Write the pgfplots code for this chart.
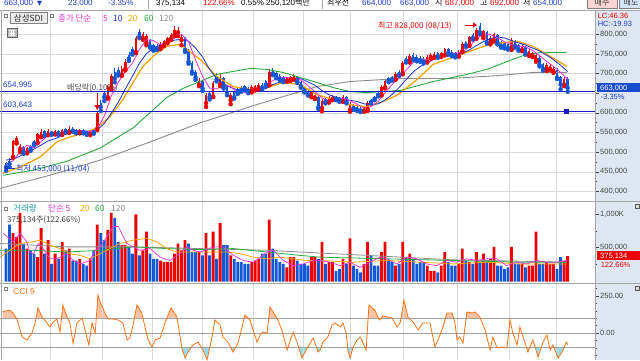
\documentclass[border=0pt]{standalone}
\usepackage{pgfplots}
\pgfplotsset{compat=1.18}
\usepackage{pgfplotstable}
\usetikzlibrary{arrows.meta}
\usepackage{fontspec}
\setmainfont{Liberation Sans}
\newfontfamily\kr{Noto Sans CJK KR}
\newfontfamily\djv{DejaVu Sans}

\definecolor{cred}{RGB}{236,0,0}
\definecolor{cblu}{RGB}{18,88,214}
\definecolor{ma5}{RGB}{238,50,220}
\definecolor{ma10}{RGB}{30,50,210}
\definecolor{ma20}{RGB}{245,165,0}
\definecolor{ma60}{RGB}{40,170,60}
\definecolor{ma120}{RGB}{140,140,140}
\definecolor{lvl}{RGB}{25,25,200}
\definecolor{rpanel}{RGB}{222,231,241}
\definecolor{grd}{RGB}{218,218,218}
\definecolor{sepc}{RGB}{165,165,165}
\definecolor{tickc}{RGB}{70,70,70}
\definecolor{cciln}{RGB}{255,115,20}
\definecolor{cciup}{RGB}{250,195,165}
\definecolor{ccidn}{RGB}{150,222,240}
\definecolor{hblue}{RGB}{30,60,200}
\definecolor{tealc}{RGB}{30,160,170}
\definecolor{cpbox}{RGB}{25,75,205}
\definecolor{btnred}{RGB}{248,212,212}
\definecolor{btnblu}{RGB}{212,228,248}

\pgfplotsset{
  panel/.style={
    scale only axis, width=595pt, anchor=north west,
    xmin=-1.71, xmax=167.8,
    axis line style={draw=none},
    xtick={12.54,27.35,41.6,55.84,70.37,84.6,98.0,113.1,128.5,143.3,156.7},
    xticklabels={{},{},{},{},{},{},{},{},{},{},{}},
    xtick style={draw=none},
    xmajorgrids,
    grid style={draw=grd, line width=0.6pt},
    ytick pos=right, yticklabel pos=right,
    tick align=outside,
    major tick length=4pt, minor tick length=2pt,
    ytick style={draw=tickc, line width=0.6pt},
    minor tick style={draw=tickc, line width=0.5pt},
    yticklabel style={font=\fontsize{7.5}{8}\selectfont, text=tickc, inner sep=1pt},
  },
  fillax/.style={scale only axis, width=595pt, xmin=-1.71, xmax=167.8, hide axis, clip=true},
  wick/.style={color=#1, only marks, mark=none, error bars/.cd, y dir=plus, y explicit, error mark=none, error bar style={color=#1, line width=0.7pt}},
  body/.style={color=#1, only marks, mark=none, error bars/.cd, y dir=plus, y explicit, error mark=none, error bar style={color=#1, line width=2.5pt}},
}

\pgfplotstableread{
i o h l c v vc
0 472 476 453 462 488 0
1 478 486 462 470 841 0
2 488 532 486 528 715 1
3 526 540 522 535 660 1
4 508 520 500 515 1018 1
5 512 516 496 500 563 0
6 500 514 497 510 488 1
7 515 518 503 508 462 0
8 528 532 518 522 412 0
9 525 548 523 545 361 1
10 540 558 538 552 790 1
11 553 556 541 545 412 0
12 545 558 543 553 614 1
13 552 555 544 548 260 0
14 547 557 545 553 412 1
15 553 556 543 547 336 0
16 546 560 544 556 589 1
17 558 562 549 552 462 0
18 551 566 549 560 488 1
19 560 563 552 555 311 0
20 556 558 548 551 311 0
21 550 559 548 556 336 1
22 556 558 548 551 260 0
23 552 555 544 548 235 0
24 546 556 543 553 336 1
25 555 558 547 550 462 0
26 560 606 556 600 841 1
27 625 632 605 615 715 0
28 650 656 630 640 614 0
29 640 670 636 665 765 1
30 665 700 660 695 1018 1
31 705 714 678 688 942 0
32 710 716 695 700 589 0
33 698 718 694 712 538 1
34 712 736 708 730 538 1
35 748 754 732 738 513 0
36 762 768 748 752 412 0
37 755 796 752 790 993 1
38 805 814 790 795 387 0
39 790 806 786 800 462 1
40 778 800 772 795 740 1
41 785 788 766 770 412 0
42 772 776 758 762 336 0
43 770 774 760 765 336 0
44 765 780 762 775 311 1
45 772 786 770 782 286 1
46 780 794 777 790 286 1
47 788 802 785 798 286 1
48 798 822 795 812 412 1
49 805 818 795 810 563 1
50 785 800 772 792 462 1
51 790 793 755 760 614 1
52 758 762 725 730 563 0
53 728 732 700 705 437 0
54 705 710 684 690 437 0
55 672 688 668 680 437 1
56 680 684 656 662 387 0
57 625 650 615 645 715 1
58 650 655 634 640 387 0
59 642 680 640 675 740 1
60 695 702 680 685 336 0
61 672 702 668 688 866 1
62 688 692 662 668 538 0
63 668 672 645 650 538 0
64 632 650 622 645 387 1
65 652 656 636 640 336 0
66 660 664 648 652 286 0
67 665 668 654 658 286 0
68 668 672 658 662 260 0
69 663 666 650 655 260 0
70 655 670 652 666 286 1
71 660 672 657 668 311 1
72 662 675 660 670 336 1
73 672 676 660 664 412 0
74 680 684 668 672 412 0
75 672 712 670 705 917 1
76 710 714 696 700 488 0
77 702 706 688 692 336 0
78 694 698 682 686 286 0
79 690 693 678 682 260 0
80 682 692 679 688 210 1
81 684 695 681 690 361 1
82 686 698 684 694 361 1
83 692 695 676 680 311 0
84 678 681 664 668 260 0
85 665 668 652 656 260 0
86 655 658 644 648 235 0
87 642 656 640 652 361 1
88 638 650 635 645 361 1
89 640 643 610 615 336 0
90 612 634 604 630 589 1
91 636 640 624 628 260 0
92 628 642 626 638 286 1
93 634 645 632 640 286 1
94 641 644 632 636 159 0
95 638 641 628 632 184 0
96 630 645 628 640 336 1
97 640 642 624 628 260 0
98 608 628 603 620 639 1
99 620 623 608 612 235 0
100 614 617 605 609 184 0
101 611 614 602 606 134 0
102 605 616 603 612 260 1
103 610 630 605 625 589 1
104 632 635 624 628 387 0
105 640 644 632 636 235 0
106 650 654 642 646 235 0
107 646 670 644 665 437 1
108 665 684 662 680 589 1
109 688 692 678 682 311 0
110 690 694 682 686 286 0
111 686 704 684 700 235 1
112 705 708 694 698 260 0
113 700 732 698 728 589 1
114 740 744 728 732 361 0
115 730 750 728 745 412 1
116 748 752 734 738 336 0
117 742 746 731 735 260 0
118 740 744 730 734 286 0
119 738 741 726 730 286 0
120 730 746 728 742 235 1
121 740 752 738 748 159 1
122 742 754 740 750 159 1
123 752 756 740 744 134 0
124 744 756 742 752 235 1
125 748 766 746 762 437 1
126 762 765 748 752 286 0
127 756 759 744 748 235 0
128 752 755 741 745 235 0
129 745 760 743 756 260 1
130 756 780 754 775 488 1
131 780 784 768 772 311 0
132 772 796 770 792 286 1
133 798 802 786 790 260 0
134 790 816 788 812 437 1
135 820 828 800 805 286 0
136 795 812 790 808 412 1
137 805 808 776 780 286 0
138 778 795 774 790 336 1
139 785 804 782 800 513 1
140 798 801 774 778 235 0
141 780 783 766 770 235 0
142 778 781 764 768 184 0
143 775 778 761 765 210 0
144 762 790 760 785 513 1
145 782 786 766 770 260 0
146 772 775 758 762 260 0
147 760 774 757 770 260 1
148 768 771 748 752 210 0
149 748 762 745 758 235 1
150 745 756 742 752 235 1
151 735 752 730 748 740 1
152 740 744 718 722 260 0
153 725 728 708 712 260 0
154 710 726 707 722 286 1
155 712 724 709 720 260 1
156 705 716 702 712 260 1
157 710 713 686 690 184 0
158 692 695 660 672 361 0
159 672 690 668 686 306 1
160 687 692 654 663 375 1
}\ohlc

\pgfplotstableread{
i v
-0.9 144
1.1 155
2.0 135
3.1 95
4.6 -27
6.0 -47
7.4 0
8.3 68
9.1 169
10.3 108
11.7 68
12.5 41
13.4 74
14.5 95
15.4 7
16.2 189
17.4 108
18.2 68
19.1 -68
19.7 0
20.2 68
21.7 101
22.5 20
23.6 -81
24.5 68
25.4 0
26.2 257
26.8 210
28.2 135
29.1 95
30.5 95
31.9 88
33.3 68
34.5 -47
35.3 -34
36.2 54
37.3 189
38.7 135
39.6 41
40.5 -47
41.6 -95
42.5 -47
43.9 -34
45.3 68
46.2 122
47.0 169
48.7 108
50.1 -101
51.0 -169
51.9 -128
53.3 -81
54.7 -61
56.1 -115
57.3 -180
58.7 -27
59.5 88
61.0 54
61.8 -27
63.2 -61
64.7 -128
66.1 -68
68.1 122
69.5 88
71.5 -61
72.4 -14
73.2 7
74.4 0
75.2 176
76.1 142
77.2 101
78.6 20
80.1 -115
81.8 7
82.9 -61
84.3 -169
85.8 -101
87.5 -34
88.9 -128
89.5 -115
90.3 -61
91.7 -27
92.9 54
93.7 68
95.2 41
96.0 68
96.9 0
97.4 -115
98.0 -169
98.9 -95
100.0 -47
100.9 -27
101.7 -68
102.6 -115
103.4 189
105.1 155
106.3 88
107.4 115
110.0 101
111.4 41
112.3 68
113.4 223
114.5 108
116.0 74
117.4 20
118.8 68
120.8 68
122.2 -95
123.1 -47
124.5 41
125.6 135
127.1 135
127.9 68
128.5 -47
129.3 -27
130.2 -68
131.3 142
132.8 135
133.6 142
135.0 108
136.5 20
137.9 -115
138.7 -27
139.9 -101
141.3 -95
142.7 -101
143.6 88
144.4 0
145.6 -81
146.4 41
147.9 -68
148.7 -128
150.1 -47
151.6 -162
153.0 -61
154.1 -14
155.0 -115
155.8 -81
157.3 -169
158.7 -115
159.6 -61
160.1 -81
}\ccitab

\begin{document}
\begin{tikzpicture}[x=1pt,y=1pt]
\useasboundingbox (0,0) rectangle (640,-360);
\clip (0,0) rectangle (640,-360);
\fill[white] (0,0) rectangle (640,-360);
\fill[rpanel] (595,-10) rectangle (640,-360);

% ---------------- price panel ----------------
\begin{axis}[panel, at={(0pt,-10pt)}, height=191pt,
  ymin=375.8, ymax=861.6,
  ytick={400,450,...,800},
  yticklabels={{400,000},{450,000},{500,000},{550,000},{600,000},{},{700,000},{750,000},{800,000}},
  minor y tick num=1, ymajorgrids]
\addplot[wick=cred] table[x=i, y expr={\thisrow{c}>=\thisrow{o} ? \thisrow{l} : nan}, y error plus expr={\thisrow{h}-\thisrow{l}}] {\ohlc};
\addplot[wick=cblu] table[x=i, y expr={\thisrow{c}<\thisrow{o} ? \thisrow{l} : nan}, y error plus expr={\thisrow{h}-\thisrow{l}}] {\ohlc};
\addplot[body=cred] table[x=i, y expr={\thisrow{c}>=\thisrow{o} ? \thisrow{o} : nan}, y error plus expr={\thisrow{c}-\thisrow{o}}] {\ohlc};
\addplot[body=cblu] table[x=i, y expr={\thisrow{c}<\thisrow{o} ? \thisrow{c} : nan}, y error plus expr={\thisrow{o}-\thisrow{c}}] {\ohlc};
\addplot[ma120, line width=0.9pt] coordinates {(-1.7,408.0)(12.5,441.3)(26.8,479.7)(41.0,525.9)(55.3,574.6)(69.5,615.6)(78.9,641.3)(88.6,666.9)(98.0,679.7)(112.3,687.4)(126.5,687.4)(140.7,695.1)(150.1,702.8)(159.8,702.8)};
\addplot[ma60, line width=0.9pt] coordinates {(-0.85,441.3)(7.7,454.1)(17.4,477)(26.8,510.5)(36.2,561.8)(41.0,600.2)(45.9,640)(50.4,662)(55.3,680)(60.1,698)(69.5,713)(74.4,710.5)(78.9,702.8)(83.8,690.0)(88.6,677.2)(93.2,664.3)(98.0,654.1)(102.8,651.5)(107.4,654.1)(112.3,657)(121.7,679.7)(131.3,697.7)(137.5,712)(142.6,730)(147.1,745)(152,753)(159.8,754.1)};
\addplot[ma20, line width=1.3pt] coordinates {(-0.85,446.4)(3.99,461.8)(9.69,487.4)(14.5,526.1)(17.4,536.2)(23.1,551.5)(25.9,561.8)(29.6,590.0)(33.3,633.6)(36.2,677.2)(39.0,718.2)(42.5,748.9)(45.9,769.4)(49.6,774.6)(55.3,736.1)(60.1,692.6)(64.7,666.9)(69.5,659.3)(74.4,664.3)(78.9,677.2)(83.8,672.0)(88.6,646.4)(93.2,633.6)(98.0,620.8)(102.8,615.6)(107.4,628.5)(111.7,646.4)(117.1,684.9)(121.7,723.3)(131.3,754.1)(137.9,774.6)(145.6,782.3)(150.1,769.4)(155.0,743.8)(159.8,718.2)};
\addplot[ma10, line width=0.8pt] coordinates {(0,480)(2,482)(4,490)(6,500)(8,508)(10,518)(12,528.7)(14,534.5)(16,543)(18,550.3)(20,552.8)(22,553.8)(24,553.3)(26,557.5)(28,572.8)(30,599.5)(32,627)(34,661)(36,693)(38,726)(40,751)(42,764)(44,773)(46,780)(48,785)(50,787)(52,782)(54,765)(56,742)(58,710.5)(60,687.5)(62,674.5)(64,664.5)(66,658.5)(68,660)(70,659)(72,657.5)(74,661.5)(76,671.75)(78,678.5)(80,682.5)(82,687)(84,687)(86,679)(88,670)(90,657)(92,646)(94,640)(96,636)(98,632)(100,629)(102,623)(104,621)(106,623)(108,632.5)(110,647)(112,664.5)(114,685)(116,704)(118,718)(120,727)(122,737)(124,742)(126,745)(128,748)(130,752)(132,760)(134,771)(136,781)(138,788.5)(140,793)(142,790.5)(144,784)(146,778)(148,772.5)(150,765)(152,757.5)(154,747)(156,735)(158,721)(160,705)};
\addplot[ma5, line width=0.8pt] coordinates {(0,470)(2,478)(4,502)(6,517.6)(8,511)(10,527)(12,543)(14,550)(16,551)(18,554)(20,555)(22,555)(24,552)(26,560)(28,592)(30,643)(32,678)(34,705)(36,726)(38,761)(40,786)(42,784)(44,773)(46,775)(48,791)(50,800)(52,781)(54,735)(56,693)(58,663)(60,661)(62,671)(64,667)(66,651)(68,651)(70,659)(72,664)(74,668)(76,682)(78,691)(80,690)(82,688)(84,684)(86,669)(88,654)(90,638)(92,631)(94,634)(96,637)(98,631)(100,622)(102,612)(104,616)(106,629)(108,651)(110,672)(112,689)(114,709)(116,728)(118,737)(120,736)(122,741)(124,747)(126,752)(128,752)(130,755)(132,768)(134,788)(136,801)(138,799)(140,791)(142,781)(144,773)(146,770)(148,768)(150,759)(152,746)(154,731)(156,718)(158,703)(160,685)};
\addplot[lvl, line width=0.9pt] coordinates {(-2,654.995)(168,654.995)};
\addplot[lvl, line width=0.9pt] coordinates {(-2,603.643)(168,603.643)};
\addplot[only marks, mark=square*, mark size=2pt, lvl] coordinates {(159.5,603.643)};
\end{axis}

% ---------------- volume panel ----------------
\begin{axis}[panel, at={(0pt,-201pt)}, height=82pt,
  ymin=-22.2, ymax=1192.6,
  ytick={500,1000}, yticklabels={{500,000},{1,000K}},
  minor ytick={250,750}]
\addplot[ybar, bar width=2.8pt, bar shift=0pt, fill=cred, draw=none] table[x=i, y expr={\thisrow{vc}==1 ? \thisrow{v} : nan}] {\ohlc};
\addplot[ybar, bar width=2.8pt, bar shift=0pt, fill=cblu, draw=none] table[x=i, y expr={\thisrow{vc}==0 ? \thisrow{v} : nan}] {\ohlc};
\addplot[ma120, line width=0.8pt] coordinates {(-1.7,563)(17.3,513)(36.3,513)(55.3,488)(74.3,462)(89.5,422)(108.5,372)(127.4,321)(137,311)(159.7,286)};
\addplot[ma60, line width=0.8pt] coordinates {(-1.7,462)(7.8,462)(17.3,437)(26.8,462)(36.3,513)(45.8,488)(55.3,472)(64.8,488)(74.3,437)(83.8,387)(89.5,361)(108.5,336)(127.4,311)(146.4,286)(159.7,286)};
\addplot[ma20, line width=0.8pt] coordinates {(-1.7,361)(1.1,462)(4.0,563)(7.8,589)(9.7,614)(12.5,538)(15.4,488)(18.2,412)(21.1,387)(23.9,336)(26.8,412)(29.6,488)(32.5,563)(36.3,614)(40.1,639)(42.9,589)(45.8,488)(48.6,437)(51.5,437)(55.3,437)(59.1,437)(62.9,437)(66.7,412)(70.5,361)(74.3,336)(78.1,361)(81.9,336)(85.7,311)(89.5,311)(99.0,286)(108.5,311)(118,286)(127.4,260)(137,286)(146.4,260)(155.9,260)(159.7,260)};
\addplot[ma5, line width=0.7pt] coordinates {(-0.8,715)(2.1,589)(4.0,715)(5.9,589)(6.8,437)(7.8,412)(9.2,563)(10.6,488)(12.5,336)(14.4,336)(17.3,412)(19.2,311)(21.1,260)(23.9,311)(25.4,462)(26.8,513)(28.7,664)(30.6,816)(32.0,816)(33.4,664)(34.4,563)(38.2,462)(41.0,488)(43.9,361)(46.7,311)(49.6,412)(51.5,513)(53.4,462)(55.3,437)(59.1,513)(61.9,513)(64.8,387)(67.6,311)(70.5,286)(74.3,437)(76.2,462)(79.0,311)(81.9,235)(84.7,260)(87.6,311)(89.5,311)(92.3,286)(95.2,235)(98.0,286)(100.9,210)(103.7,286)(106.6,361)(108.5,336)(111.3,260)(114.2,361)(117.0,336)(119.9,260)(122.7,235)(125.6,311)(128.4,286)(131.3,336)(134.1,311)(137.0,336)(139.8,336)(142.6,235)(145.5,286)(148.3,260)(151.2,311)(154.0,286)(156.9,286)(159.7,311)};
\end{axis}

% ---------------- CCI fills (clipped sub-axes) ----------------
\begin{axis}[fillax, at={(0pt,-283pt)}, anchor=north west, height=35.2pt, ymin=100, ymax=337.8]
\addplot[fill=cciup, draw=none] table[x=i, y=v] {\ccitab} \closedcycle;
\end{axis}
\begin{axis}[fillax, at={(0pt,-360pt)}, anchor=south west, height=12.2pt, ymin=-182.4, ymax=-100]
\addplot[fill=ccidn, draw=none] table[x=i, y=v] {\ccitab} \closedcycle;
\end{axis}

% ---------------- CCI panel ----------------
\begin{axis}[panel, at={(0pt,-283pt)}, height=77pt,
  ymin=-182.4, ymax=337.8,
  ytick={0,250}, yticklabels={{0.00},{250.00}},
  minor ytick={-150,-100,-50,50,100,150,200,300}]
\addplot[gray!75, line width=0.8pt] coordinates {(-2,100)(168,100)};
\addplot[gray!75, line width=0.8pt] coordinates {(-2,0)(168,0)};
\addplot[gray!75, line width=0.8pt] coordinates {(-2,-100)(168,-100)};
\addplot[cciln, line width=0.8pt] table[x=i, y=v] {\ccitab};
\end{axis}

% ---------------- frames ----------------
\draw[sepc, line width=0.8pt] (0,-10) -- (640,-10);
\draw[sepc, line width=0.8pt] (0,-201) -- (640,-201);
\draw[sepc, line width=0.8pt] (0,-283) -- (640,-283);
\draw[sepc, line width=0.8pt] (595,-10) -- (595,-360);
\draw[sepc, line width=0.8pt] (1,-10) -- (1,-360);

% ---------------- header ----------------
\tikzset{hdr/.style={anchor=base west, inner sep=0pt, font=\fontsize{8}{9}\selectfont}}
\node[hdr, text=hblue] at (4,-5.8) {663,000};
\node[hdr, text=hblue, font=\djv\fontsize{6.5}{7}\selectfont] at (37,-5.8) {▼};
\node[hdr, text=hblue] at (68,-5.8) {23,000};
\node[hdr, text=hblue] at (108,-5.8) {-3.35\%};
\draw[sepc] (148,0) -- (148,-9);
\node[hdr, text=black] at (156,-5.8) {375,134};
\node[hdr, text=cred] at (203,-5.8) {122.66\%};
\node[hdr, text=black] at (241,-5.8) {0.55\%};
\node[hdr, text=black] at (266,-5.8) {250,120{\kr 백만}};
\draw[sepc] (322,0) -- (322,-9);
\node[hdr, text=black] at (327,-5.8) {\kr 최우선};
\node[hdr, text=hblue] at (362,-5.8) {664,000};
\node[hdr, text=hblue] at (400,-5.8) {663,000};
\node[hdr, text=black] at (435,-5.8) {\kr 시};
\node[hdr, text=cred] at (445,-5.8) {687,000};
\node[hdr, text=black] at (480,-5.8) {\kr 고};
\node[hdr, text=cred] at (490,-5.8) {692,000};
\node[hdr, text=black] at (523,-5.8) {\kr 저};
\node[hdr, text=hblue] at (533,-5.8) {654,000};
\filldraw[fill=btnred, draw=gray] (587,1) rectangle (617,-8.5);
\node[hdr, anchor=base, text=black!80] at (602,-5.8) {\kr 매수};
\filldraw[fill=btnblu, draw=gray] (619,1) rectangle (641,-8.5);
\node[hdr, anchor=base, text=black!80] at (631,-5.8) {\kr 매도};

% ---------------- price legends & annotations ----------------
\tikzset{lg/.style={anchor=base west, inner sep=0pt, font=\kr\fontsize{8.5}{9}\selectfont}}
\filldraw[fill=white, draw=gray] (4.5,-14) rectangle (7.5,-17);
\filldraw[fill=gray!15, draw=gray] (10,-12.5) rectangle (47,-23);
\node[anchor=base, inner sep=0pt, font=\kr\fontsize{8.5}{9}\selectfont, text=black!85] at (28.5,-21.3) {삼성SDI};
\filldraw[fill=white, draw=gray] (50.5,-14) rectangle (53.5,-17);
\node[lg, text=ma5] at (58,-21.3) {종가 단순};
\node[lg, text=ma5] at (103,-21.3) {5};
\node[lg, text=ma10] at (113,-21.3) {10};
\node[lg, text=ma20] at (128,-21.3) {20};
\node[lg, text=ma60] at (144,-21.3) {60};
\node[lg, text=ma120] at (159,-21.3) {120};
\filldraw[fill=gray!55, draw=gray!80!black] (7,-28) rectangle (17,-37);
\draw[white] (9,-30.5) -- (15,-30.5) (9,-33) -- (15,-33) (9,-35.3) -- (15,-35.3) (11,-29.5) -- (11,-36) (13,-29.5) -- (13,-36);

\node[anchor=base west, inner sep=0pt, font=\fontsize{8}{9}\selectfont, text=hblue] at (3,-87.8) {654,995};
\node[anchor=base west, inner sep=0pt, font=\fontsize{8}{9}\selectfont, text=hblue] at (3,-107.5) {603,643};
\node[anchor=base west, inner sep=0pt, font=\kr\fontsize{8}{9}\selectfont, text=black!70] at (67,-90) {배당락(0.10\%)};
\draw[cred, line width=1.3pt, -{Triangle[length=5pt,width=5.5pt]}] (97.3,-93) -- (97.3,-110);
\node[anchor=base west, inner sep=0pt, font=\kr\fontsize{8}{9}\selectfont, text=cred] at (378,-28) {최고 828,000 (08/13)};
\draw[cred, line width=0.9pt, -{Triangle[length=4pt,width=5pt]}] (465,-25) -- (477,-25);
\node[anchor=base west, inner sep=0pt, font=\kr\fontsize{8}{9}\selectfont, text=hblue] at (16,-171) {최저 453,000 (11/04)};
\draw[hblue, line width=0.9pt, -{Triangle[length=4pt,width=5pt]}] (15,-168) -- (4,-168);

% ---------------- volume legend ----------------
\filldraw[fill=white, draw=gray] (4.5,-207) rectangle (7.5,-210);
\node[lg, text=tealc] at (13,-211.5) {거래량};
\node[lg, text=ma5] at (48,-211.5) {단순 5};
\node[lg, text=ma20] at (80,-211.5) {20};
\node[lg, text=ma60] at (95,-211.5) {60};
\node[lg, text=ma120] at (111,-211.5) {120};
\node[anchor=base west, inner sep=0pt, font=\kr\fontsize{8}{9}\selectfont, text=black!75] at (7,-222) {375,134주(122.66\%)};

% ---------------- CCI legend ----------------
\filldraw[fill=white, draw=gray] (4.5,-287.5) rectangle (7.5,-290.5);
\node[anchor=base west, inner sep=0pt, font=\fontsize{8.5}{9}\selectfont, text=cciln] at (13,-294) {CCI 9};

% ---------------- right panel labels ----------------
\tikzset{rl/.style={anchor=base west, inner sep=0.6pt, font=\fontsize{7.5}{8}\selectfont, fill=rpanel}}
\node[rl, text=cred] at (597,-18.5) {LC:46.36};
\node[rl, text=hblue] at (597,-26.5) {HC:-19.93};
\fill[cpbox] (597,-83) rectangle (640,-92);
\node[anchor=base west, inner sep=0pt, font=\fontsize{7.5}{8}\selectfont, text=white] at (600,-90.5) {663,000};
\node[rl, text=hblue] at (600,-99.5) {-3.35\%};
\fill[cred] (597,-251) rectangle (640,-260);
\node[anchor=base west, inner sep=0pt, font=\fontsize{7.5}{8}\selectfont, text=white] at (600,-258.5) {375,134};
\node[rl, text=cred] at (600,-267) {122.66\%};
\filldraw[fill=gray!30, draw=gray!70!black] (635.5,-204.5) rectangle (639.5,-208.5);
\filldraw[fill=gray!30, draw=gray!70!black] (635.5,-286.5) rectangle (639.5,-290.5);
\end{tikzpicture}
\end{document}
